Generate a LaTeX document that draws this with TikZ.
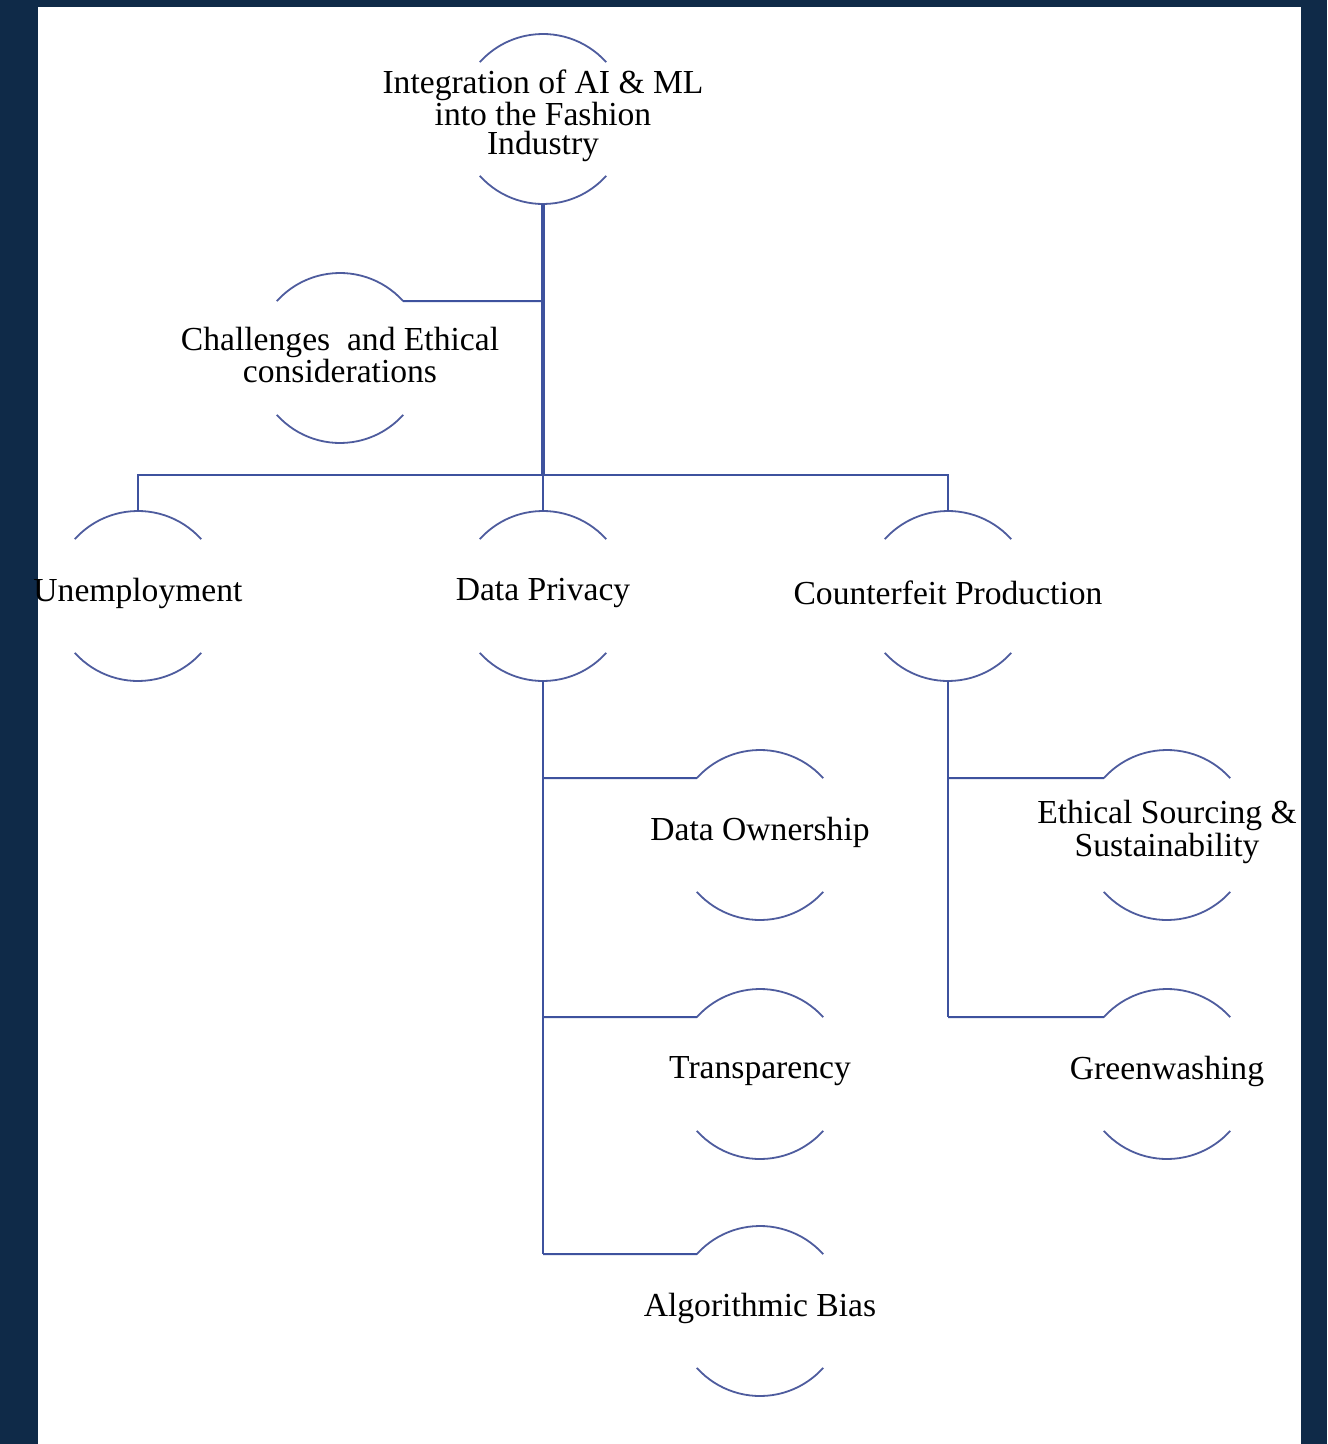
\documentclass[tikz,border=0pt]{standalone}
\usepackage{fontspec}
\setmainfont{Liberation Serif}
\usepackage{xcolor}
\usetikzlibrary{arrows.meta}

\definecolor{navybg}{RGB}{15,42,72}
\definecolor{linkblue}{RGB}{62,82,158}
\definecolor{ringblue}{RGB}{78,92,158}

\begin{document}
\begin{tikzpicture}[x=0.5pt,y=-0.5pt]
	\useasboundingbox (0,0) rectangle (1327,1444);
	\fill[navybg] (0,0) rectangle (1327,1444);
	\fill[white] (38,7) rectangle (1301,1444);
	\begin{scope}[every node/.style = {circle, minimum size=85pt, inner sep=0pt, outer sep=0pt},
		every label/.append style={shape=rectangle, minimum size=0pt, inner sep=1pt, align=center,
			font=\fontsize{16.8}{14.5}\selectfont, yshift=1.5pt}]
		\node [label={center:Integration of AI \& ML\\into the Fashion\\Industry}] (root) at (543,119) {};
		\node [label={center:Challenges\ \ and Ethical\\considerations}] (chal) at (340,358) {};
		\node [label={center:Unemployment}] (unemp) at (138,596) {};
		\node [label={center:Data Privacy}] (dp) at (543,596) {};
		\node [label={center:Counterfeit Production}] (cp) at (948,596) {};
		\node [label={center:Data Ownership}] (own) at (760,835) {};
		\node [label={center:Transparency}] (transp) at (760,1074) {};
		\node [label={center:Algorithmic Bias}] (bias) at (760,1311) {};
		\node [label={center:Ethical Sourcing \&\\Sustainability}] (ethic) at (1167,835) {};
		\node [label={center:Greenwashing}] (green) at (1167,1074) {};
	\end{scope}
	% open rings round the nodes
	\foreach \n in {root,chal,unemp,dp,cp,own,transp,bias,ethic,green} {
		\draw [ringblue, line width=0.9pt] (\n.42) arc[start angle=42, end angle=138, radius=42.5pt];
		\draw [ringblue, line width=0.9pt] (\n.222) arc[start angle=222, end angle=318, radius=42.5pt];
	}
	\coordinate (cj) at (543,301);
	\coordinate (bus) at (543,475);
	\coordinate (dj1) at (543,778);
	\coordinate (dj2) at (543,1017);
	\coordinate (dj3) at (543,1254);
	\coordinate (cj1) at (948,778);
	\coordinate (cj2) at (948,1017);
	\begin{scope}[every path/.style={draw=linkblue, line width=1pt}]
		\draw [line width=1.8pt] (root.south) -- (bus);
		\draw (bus) -- (dp.north);
		\draw (cj) -- (chal.42);
		\draw (bus) -| (unemp.north);
		\draw (bus) -| (cp.north);
		\draw (dp.south) -- (dj3);
		\draw (dj1) -- (own.138);
		\draw (dj2) -- (transp.138);
		\draw (dj3) -- (bias.138);
		\draw (cp.south) -- (cj2);
		\draw (cj1) -- (ethic.138);
		\draw (cj2) -- (green.138);
	\end{scope}
\end{tikzpicture}
\end{document}
